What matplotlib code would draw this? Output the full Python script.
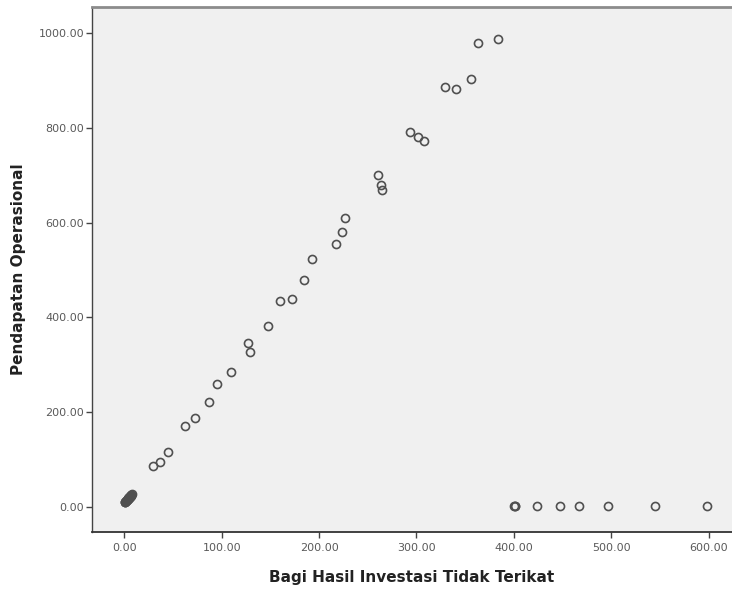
import matplotlib
matplotlib.use("Agg")
import matplotlib.pyplot as plt
from matplotlib.ticker import FormatStrFormatter

# Bagi Hasil Investasi Tidak Terikat (x) vs Pendapatan Operasional (y)
bagi_hasil = [
    # cluster near origin
    0.5, 0.9, 1.2, 1.6, 2.0, 2.3, 2.7, 3.0, 3.4, 3.8, 4.1, 4.5, 4.9,
    5.2, 5.6, 6.0, 6.4, 6.8, 7.2, 7.5,
    # main diagonal
    29.8, 36.7, 45.2, 62.4, 72.6, 87.0, 94.9, 109.6, 127.4, 129.1,
    147.9, 159.9, 171.9, 184.9, 193.1, 217.1, 223.9, 226.6,
    260.3, 263.4, 264.4, 293.5, 302.0, 307.8, 329.4, 340.7, 356.4,
    363.6, 383.6,
    # points on zero line
    400.0, 400.8, 401.5, 423.6, 447.6, 467.1, 496.9, 545.1, 598.3,
]
pendapatan = [
    9.0, 10.0, 11.0, 12.0, 12.5, 13.5, 14.5, 15.0, 16.0, 17.0, 17.5, 18.5, 19.5,
    20.0, 21.0, 22.0, 23.0, 24.0, 25.0, 26.0,
    86.6, 95.1, 115.5, 171.5, 186.7, 221.2, 258.6, 283.9, 345.2, 327.4,
    381.7, 435.0, 439.7, 478.9, 523.2, 554.3, 579.6, 609.5,
    700.7, 679.6, 669.0, 792.1, 780.3, 773.1, 886.6, 882.4, 903.5,
    978.9, 987.3,
    2.0, 2.0, 2.0, 2.0, 2.0, 2.0, 2.0, 2.0, 2.0,
]

x_ticks = [0, 100, 200, 300, 400, 500, 600]
y_ticks = [0, 200, 400, 600, 800, 1000]

fig = plt.figure(figsize=(7.32, 5.91), dpi=100)
fig.patch.set_facecolor("white")
ax = fig.add_axes([92 / 732, 1 - 532.3 / 591, 640 / 732, 525.3 / 591])
ax.set_facecolor("#f0f0f0")

ax.plot(bagi_hasil, pendapatan, linestyle="none", marker="o",
        markersize=5.8, markerfacecolor="none",
        markeredgecolor="#505050", markeredgewidth=1.2)

ax.set_xlim(-33.2, 624)
ax.set_ylim(-54, 1055.6)
ax.set_xticks(x_ticks)
ax.set_yticks(y_ticks)
ax.xaxis.set_major_formatter(FormatStrFormatter("%.2f"))
ax.yaxis.set_major_formatter(FormatStrFormatter("%.2f"))

ax.tick_params(axis="both", direction="out", length=4, width=1,
               color="#444444", labelsize=8, labelcolor="#5a5a5a")
ax.tick_params(axis="x", pad=4)
ax.tick_params(axis="y", pad=1.5)

ax.spines["right"].set_visible(False)
ax.spines["top"].set_color("#8c8c8c")
ax.spines["top"].set_linewidth(2)
ax.spines["left"].set_color("#444444")
ax.spines["left"].set_linewidth(1)
ax.spines["bottom"].set_color("#333333")
ax.spines["bottom"].set_linewidth(1.3)

ax.set_xlabel("Bagi Hasil Investasi Tidak Terikat", fontsize=11,
              fontweight="bold", color="#222222", labelpad=12)
ax.set_ylabel("Pendapatan Operasional", fontsize=11,
              fontweight="bold", color="#222222", labelpad=9)

plt.savefig("out.png", dpi=100)
